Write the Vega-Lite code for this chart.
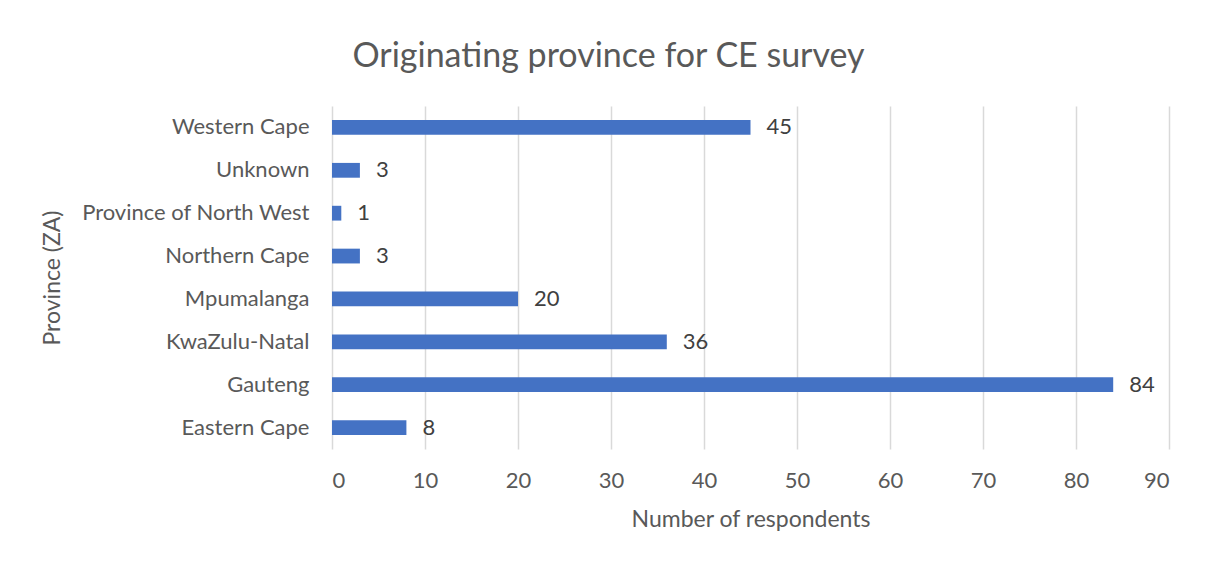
{
  "$schema": "https://vega.github.io/schema/vega-lite/v6.json",
  "width": 837,
  "height": 343,
  "autosize": {"type": "none"},
  "padding": {"left": 332, "top": 106, "right": 36, "bottom": 114},
  "background": "white",
  "title": {
    "text": "Originating province for CE survey",
    "font": "Lato",
    "fontSize": 34,
    "fontWeight": "normal",
    "color": "#595959",
    "anchor": "middle",
    "dx": -142,
    "offset": 32
  },
  "data": {
    "values": [
      {"province": "Western Cape", "count": 45},
      {"province": "Unknown", "count": 3},
      {"province": "Province of North West", "count": 1},
      {"province": "Northern Cape", "count": 3},
      {"province": "Mpumalanga", "count": 20},
      {"province": "KwaZulu-Natal", "count": 36},
      {"province": "Gauteng", "count": 84},
      {"province": "Eastern Cape", "count": 8}
    ]
  },
  "encoding": {
    "y": {
      "field": "province",
      "type": "nominal",
      "sort": "descending",
      "scale": {"paddingInner": 0.655, "paddingOuter": 0.3275},
      "axis": {
        "title": "Province (ZA)",
        "titleFont": "Lato",
        "titleFontSize": 23,
        "titleFontWeight": "normal",
        "titleColor": "#595959",
        "titleX": -268,
        "titleY": 171.5,
        "titleAngle": -90,
        "titleBaseline": "bottom",
        "titleAlign": "center",
        "labelFont": "Lato",
        "labelFontSize": 22,
        "labelColor": "#595959",
        "labelPadding": 23,
        "labelLimit": 400,
        "ticks": false,
        "domain": false,
        "grid": false
      }
    },
    "x": {
      "field": "count",
      "type": "quantitative",
      "scale": {"domain": [0, 90], "nice": false},
      "axis": {
        "title": "Number of respondents",
        "titleFont": "Lato",
        "titleFontSize": 23,
        "titleFontWeight": "normal",
        "titleColor": "#595959",
        "titlePadding": 17,
        "labelFont": "Lato",
        "labelFontSize": 22,
        "labelColor": "#595959",
        "labelPadding": 21,
        "values": [0, 10, 20, 30, 40, 50, 60, 70, 80, 90],
        "ticks": false,
        "domain": false,
        "grid": true,
        "gridColor": "#d9d9d9",
        "gridWidth": 1.5
      }
    }
  },
  "layer": [
    {"mark": {"type": "bar", "color": "#4472C4"}},
    {
      "mark": {
        "type": "text",
        "align": "left",
        "baseline": "middle",
        "dx": 16,
        "font": "Lato",
        "fontSize": 22,
        "color": "#404040"
      },
      "encoding": {"text": {"field": "count", "type": "quantitative"}}
    }
  ],
  "config": {"view": {"stroke": null}}
}
